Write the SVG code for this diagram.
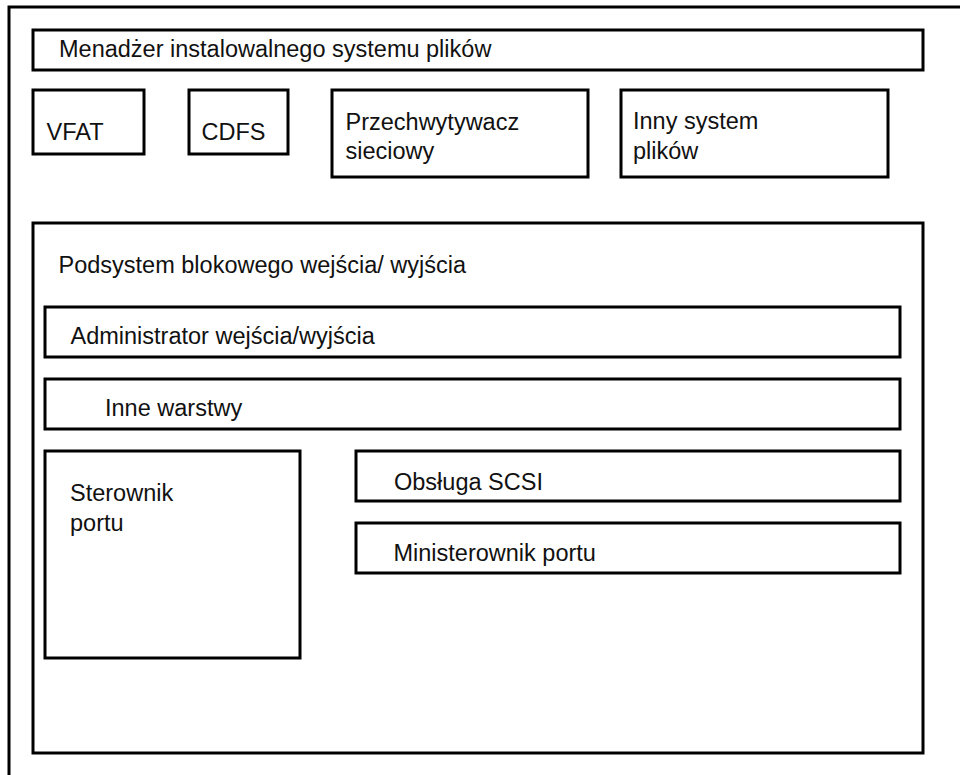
<svg xmlns="http://www.w3.org/2000/svg" width="960" height="775" viewBox="0 0 960 775">
  <style>
    .box { fill: #ffffff; stroke: #000000; stroke-width: 3; }
    .lbl { font-family: "Liberation Sans", Arial, sans-serif; font-size: 23.5px; fill: #111111; }
  </style>
  <rect x="0" y="0" width="960" height="775" fill="#ffffff"/>
  <!-- outer frame, running past the right and bottom edges -->
  <g id="frame">
    <rect class="box" x="9" y="7" width="980" height="800"/>
  </g>
  <g id="menadzer">
    <rect class="box" x="33" y="30" width="890" height="40"/>
    <text class="lbl" x="59" y="57">Menadżer instalowalnego systemu plików</text>
  </g>
  <g id="vfat">
    <rect class="box" x="33" y="90" width="111" height="64"/>
    <text class="lbl" x="46.5" y="139.5">VFAT</text>
  </g>
  <g id="cdfs">
    <rect class="box" x="189" y="90" width="99" height="64"/>
    <text class="lbl" x="201.5" y="140">CDFS</text>
  </g>
  <g id="przechwytywacz">
    <rect class="box" x="332" y="90" width="256" height="87"/>
    <text class="lbl" x="345.5" y="130">Przechwytywacz</text>
    <text class="lbl" x="345.5" y="158.5">sieciowy</text>
  </g>
  <g id="inny">
    <rect class="box" x="621" y="90" width="267" height="87"/>
    <text class="lbl" x="633" y="129">Inny system</text>
    <text class="lbl" x="633" y="159">plików</text>
  </g>
  <g id="podsystem">
    <rect class="box" x="33" y="223" width="890" height="530"/>
    <text class="lbl" x="58.5" y="272.5">Podsystem blokowego wejścia/ wyjścia</text>
  </g>
  <g id="administrator">
    <rect class="box" x="45" y="307" width="855" height="50"/>
    <text class="lbl" x="70.5" y="344">Administrator wejścia/wyjścia</text>
  </g>
  <g id="inne-warstwy">
    <rect class="box" x="45" y="379" width="855" height="50"/>
    <text class="lbl" x="105" y="416">Inne warstwy</text>
  </g>
  <g id="sterownik">
    <rect class="box" x="45" y="451" width="255" height="207"/>
    <text class="lbl" x="70" y="501">Sterownik</text>
    <text class="lbl" x="70" y="530.5">portu</text>
  </g>
  <g id="scsi">
    <rect class="box" x="356" y="451" width="544" height="50"/>
    <text class="lbl" x="394" y="490">Obsługa SCSI</text>
  </g>
  <g id="ministerownik">
    <rect class="box" x="356" y="523" width="544" height="50"/>
    <text class="lbl" x="393.5" y="560.5">Ministerownik portu</text>
  </g>
  <g id="connectors"></g>
</svg>
